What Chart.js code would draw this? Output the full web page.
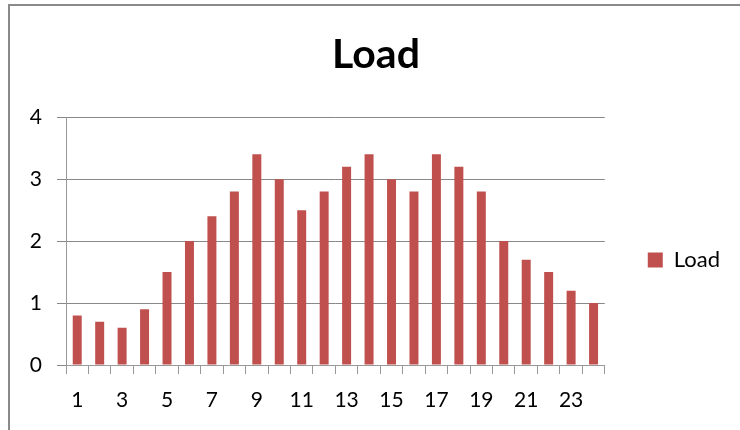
<!DOCTYPE html>
<html>
<head>
<meta charset="utf-8">
<script src="https://cdn.jsdelivr.net/npm/chart.js@4"></script>
<style>
  html, body { margin: 0; padding: 0; background: #fff; }
  #wrap { position: relative; width: 740px; height: 430px; overflow: hidden; }
  #frame { position: absolute; left: 8px; top: 4px; right: -10px; bottom: -10px;
           border-left: 2px solid #8a8a8a; border-top: 2px solid #8a8a8a; }
  canvas { position: absolute; left: 0; top: 0; }
</style>
</head>
<body>
<div id="wrap">
  <div id="frame"></div>
  <canvas id="c" width="740" height="430"></canvas>
</div>
<script>
// Hourly load profile
const hours = ['1','2','3','4','5','6','7','8','9','10','11','12',
               '13','14','15','16','17','18','19','20','21','22','23','24'];
const load = [0.8, 0.7, 0.6, 0.9, 1.5, 2.0, 2.4, 2.8, 3.4, 3.0, 2.5, 2.8,
              3.2, 3.4, 3.0, 2.8, 3.4, 3.2, 2.8, 2.0, 1.7, 1.5, 1.2, 1.0];
const yTicks = [0, 1, 2, 3, 4];

const BAR = '#C0504D';
const FONT = 'Lato';
const PAD_L = 22, PAD_R = 10;

new Chart(document.getElementById('c'), {
  type: 'bar',
  data: {
    labels: hours,
    datasets: [{
      label: 'Load',
      data: load,
      backgroundColor: BAR,
      borderColor: BAR,
      borderWidth: 0,
      barPercentage: 0.8,
      categoryPercentage: 0.5
    }]
  },
  options: {
    responsive: false,
    animation: false,
    layout: { padding: { left: PAD_L, right: PAD_R, top: 0, bottom: 0 } },
    plugins: {
      title: {
        display: true,
        text: 'Load',
        color: '#000',
        font: { family: FONT, size: 41, weight: 'bold', lineHeight: 1.2 },
        padding: { top: 30, bottom: 38 }
      },
      legend: {
        position: 'right',
        fullSize: false,
        title: { display: true, text: '', font: { size: 10, lineHeight: 1.2 }, padding: { top: 26, bottom: 0 } },
        labels: {
          boxWidth: 15,
          boxHeight: 15,
          padding: 43,
          color: '#000',
          font: { family: FONT, size: 22 }
        }
      },
      tooltip: { enabled: false }
    },
    scales: {
      x: {
        grid: { drawOnChartArea: false, drawTicks: true, tickLength: 9, color: '#999', offset: true },
        border: { color: '#999' },
        ticks: {
          autoSkip: false,
          maxRotation: 0,
          padding: 14,
          color: '#000',
          font: { family: FONT, size: 21 },
          callback: (v, i) => (i % 2 === 0 ? hours[i] : '')
        },
        afterFit(s) { s.height = 65; }
      },
      y: {
        min: yTicks[0],
        max: yTicks[yTicks.length - 1],
        ticks: {
          stepSize: 1,
          padding: 15,
          color: '#000',
          font: { family: FONT, size: 21 }
        },
        grid: { color: '#888', tickLength: 9 },
        border: { color: '#999' },
        afterFit(s) { s.width = 66 - PAD_L; }
      }
    }
  }
});
</script>
</body>
</html>
